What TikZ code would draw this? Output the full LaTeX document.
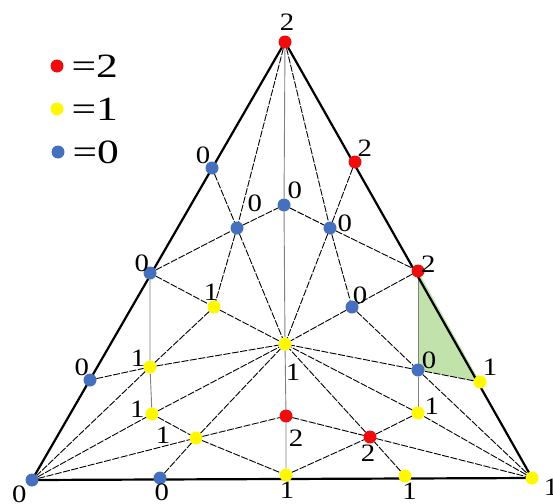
\documentclass[tikz,border=0pt]{standalone}
\usepackage{fontspec}
\setmainfont{Liberation Serif}
\newfontfamily\lblfont[FakeStretch=1.15]{Liberation Serif}
\newfontfamily\keyfont[FakeStretch=1.28]{Liberation Serif}
\definecolor{dotred}{RGB}{238,12,12}
\definecolor{dotyellow}{RGB}{255,248,0}
\definecolor{dotblue}{RGB}{68,112,190}
\definecolor{cellgreen}{RGB}{194,226,172}
\pgfdeclarelayer{back}
\pgfsetlayers{back,main}

\begin{document}
\begin{tikzpicture}[x=1pt, y=-1pt,
  v/.style={circle, inner sep=0pt, outer sep=0pt, minimum size=13pt},
  v2/.style={v, fill=dotred}, v1/.style={v, fill=dotyellow}, v0/.style={v, fill=dotblue},
  lbl/.style={font=\lblfont\fontsize{25}{25}\selectfont, inner sep=0pt, anchor=center},
  key/.style={font=\keyfont\fontsize{34}{34}\selectfont, inner sep=0pt, anchor=west, label distance=8pt},
  mesh/.style={black, line width=0.9pt, dash pattern=on 7pt off 1.5pt},
  rib/.style={black!50, line width=0.9pt},
  rim/.style={black, line width=2.2pt}]
\useasboundingbox (0,0) rectangle (553,503);

\node[v2, label={[key]0:{=2}}] (k2) at (57,66) {};
\node[v1, label={[key]0:{=1}}] (k1) at (57,109) {};
\node[v0, label={[key]0:{=0}}] (k0) at (58,152) {};

\node[v2, label={[lbl,label distance=13pt]84:2}] (a) at (285,42) {};
\node[v0, label={[lbl,label distance=12.5pt]-132:0}] (b) at (32,480) {};
\node[v1, label={[lbl,label distance=14.5pt]-25:1}] (c) at (532,478) {};
\node[v0, label={[lbl,label distance=9pt]125:0}] (l1) at (212,168) {};
\node[v0, label={[lbl,label distance=6.5pt]129:0}] (l2) at (150,273) {};
\node[v0, label={[lbl,label distance=9pt]122:0}] (l3) at (90,380) {};
\node[v2, label={[lbl,label distance=10.5pt]55:2}] (r1) at (355,162) {};
\node[v2, label={[lbl,label distance=6pt]35:2}] (r2) at (418,271) {};
\node[v1, label={[lbl,label distance=11.5pt]56:1}] (r3) at (480,382) {};
\node[v0, label={[lbl,label distance=8pt]-83:0}] (d1) at (160,478) {};
\node[v1, label={[lbl,label distance=9pt]-86:1}] (d2) at (286,475) {};
\node[v1, label={[lbl,label distance=9pt]-73:1}] (d3) at (405,476) {};
\node[v0, label={[lbl,label distance=12pt]54:0}] (t) at (284,205) {};
\node[v0, label={[lbl,label distance=24pt]54:0}] (tl) at (237,228) {};
\node[v0, label={[lbl,label distance=9pt]18:0}] (tr) at (330,228) {};
\node[v1, label={[lbl,label distance=9pt]101:1}] (ml) at (214,307) {};
\node[v0, label={[lbl,label distance=8pt]56:0}] (mr) at (352,307) {};
\node[v1, label={[lbl,label distance=22.5pt]-74:1}] (o) at (285,344) {};
\node[v1, label={[lbl,label distance=8.5pt]143:1}] (vl1) at (150,367) {};
\node[v1, label={[lbl,label distance=9pt]162:1}] (vl2) at (152,414) {};
\node[v0, label={[lbl,label distance=8.5pt]42:0}] (vr1) at (418,370) {};
\node[v1, label={[lbl,label distance=9pt]27:1}] (vr2) at (418,413) {};
\node[v1, label={[lbl,label distance=26.5pt]175:1}] (bl) at (196,438) {};
\node[v2, label={[lbl,label distance=17.5pt]-65:2}] (bm) at (286,416) {};
\node[v2, label={[lbl,label distance=9.5pt]-97:2}] (br) at (370,437) {};

\begin{pgfonlayer}{back}
\fill[cellgreen] (r2.center) -- (vr1.center) -- (r3.center) -- cycle;
\draw[rib] (a) -- (t) -- (o) -- (bm) -- (d2);
\draw[rib] (l2) -- (vl1) -- (vl2);
\draw[rib] (r2) -- (vr1) -- (vr2);
\draw[mesh] (a) -- (tl) -- (ml) -- (vl1) -- (b);
\draw[mesh] (a) -- (tr) -- (mr) -- (vr1) -- (c);
\draw[mesh] (l1) -- (tl) -- (o);
\draw[mesh] (r1) -- (tr) -- (o);
\draw[mesh] (l2) -- (tl) -- (t) -- (tr) -- (r2);
\draw[mesh] (l2) -- (ml) -- (o);
\draw[mesh] (r2) -- (mr) -- (o);
\draw[mesh] (l3) -- (vl1) -- (o);
\draw[mesh] (r3) -- (vr1) -- (o);
\draw[mesh] (b) -- (vl2) -- (o);
\draw[mesh] (c) -- (vr2) -- (o);
\draw[mesh] (d1) -- (bl) -- (o);
\draw[mesh] (d3) -- (br) -- (o);
\draw[mesh] (b) -- (bl) -- (bm) -- (br) -- (c);
\draw[mesh] (vl2) -- (bl) -- (d2) -- (br) -- (vr2);
\draw[rim] (a.center) -- (b.center) -- (c.center) -- cycle;
\end{pgfonlayer}
\end{tikzpicture}
\end{document}
